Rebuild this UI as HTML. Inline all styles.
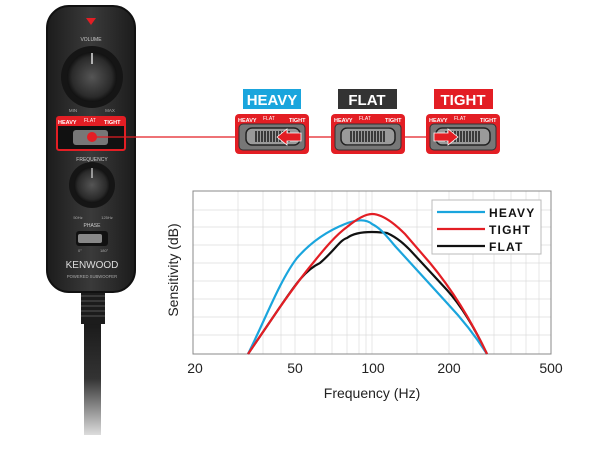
<!DOCTYPE html>
<html><head><meta charset="utf-8"><style>
body{margin:0;background:#fff;width:610px;height:450px;overflow:hidden}
svg{display:block}
text{font-family:"Liberation Sans",sans-serif}
</style></head><body>
<svg width="610" height="450" viewBox="0 0 610 450" xmlns="http://www.w3.org/2000/svg">
<defs>
<linearGradient id="cable" x1="0" y1="0" x2="0" y2="1">
<stop offset="0" stop-color="#1a1a1a"/><stop offset="0.5" stop-color="#333"/><stop offset="1" stop-color="#ddd"/></linearGradient>
<linearGradient id="body" x1="0" y1="0" x2="1" y2="0">
<stop offset="0" stop-color="#1c1c1c"/><stop offset="0.5" stop-color="#3a3a3a"/><stop offset="1" stop-color="#1c1c1c"/></linearGradient>
<radialGradient id="knob" cx="0.5" cy="0.5" r="0.5">
<stop offset="0" stop-color="#555"/><stop offset="0.8" stop-color="#2a2a2a"/><stop offset="1" stop-color="#111"/></radialGradient>
<g id="grip"><rect x="0" y="0" width="54" height="17" rx="6" fill="#9a9a9a" stroke="#222" stroke-width="1.5"/>
<g stroke="#222" stroke-width="1.6">
<line x1="10" y1="3" x2="10" y2="14"/><line x1="13" y1="3" x2="13" y2="14"/><line x1="16" y1="3" x2="16" y2="14"/><line x1="19" y1="3" x2="19" y2="14"/><line x1="22" y1="3" x2="22" y2="14"/><line x1="25" y1="3" x2="25" y2="14"/><line x1="28" y1="3" x2="28" y2="14"/><line x1="31" y1="3" x2="31" y2="14"/><line x1="34" y1="3" x2="34" y2="14"/><line x1="37" y1="3" x2="37" y2="14"/><line x1="40" y1="3" x2="40" y2="14"/><line x1="43" y1="3" x2="43" y2="14"/></g></g>
<g id="unit"><rect x="0" y="0" width="74" height="40" rx="4" fill="#e31e24"/>
<rect x="4" y="10" width="66" height="26" rx="4" fill="#777" stroke="#333"/>
<text x="3" y="8" font-size="5.5" font-weight="bold" fill="#fff">HEAVY</text>
<text x="28" y="6" font-size="5" fill="#fff">FLAT</text>
<text x="54" y="8" font-size="5.5" font-weight="bold" fill="#fff">TIGHT</text></g>
</defs>
<!-- cable -->
<rect x="84" y="322" width="17" height="113" fill="url(#cable)"/>
<rect x="81" y="288" width="24" height="36" fill="#1c1c1c"/>
<g stroke="#555" stroke-width="1"><line x1="81" y1="296" x2="105" y2="296"/><line x1="81" y1="301" x2="105" y2="301"/><line x1="81" y1="306" x2="105" y2="306"/><line x1="81" y1="311" x2="105" y2="311"/><line x1="81" y1="316" x2="105" y2="316"/></g>
<!-- body -->
<rect x="47" y="6" width="88" height="286" rx="22" fill="url(#body)" stroke="#111" stroke-width="2"/>
<path d="M86 18 L96 18 L91 25 Z" fill="#e31e24"/>
<text x="91" y="41" font-size="5" fill="#ccc" text-anchor="middle">VOLUME</text>
<circle cx="92" cy="77" r="31" fill="#151515"/>
<circle cx="92" cy="77" r="25" fill="url(#knob)"/>
<line x1="92" y1="53" x2="92" y2="64" stroke="#ddd" stroke-width="1.5"/>
<text x="73" y="112" font-size="4.5" fill="#aaa" text-anchor="middle">MIN</text>
<text x="110" y="112" font-size="4.5" fill="#aaa" text-anchor="middle">MAX</text>
<rect x="57" y="117" width="68" height="33" rx="2" fill="#111" stroke="#e31e24" stroke-width="2"/>
<rect x="57" y="117" width="68" height="9" fill="#e31e24"/>
<text x="58" y="124" font-size="5.5" font-weight="bold" fill="#fff">HEAVY</text>
<text x="84" y="122" font-size="5" fill="#fff">FLAT</text>
<text x="104" y="124" font-size="5.5" font-weight="bold" fill="#fff">TIGHT</text>
<rect x="73" y="130" width="35" height="15" rx="3" fill="#777"/>
<line x1="92" y1="137" x2="430" y2="137" stroke="#e31e24" stroke-width="1.2"/>
<circle cx="92" cy="137" r="5" fill="#e31e24"/>
<text x="92" y="161" font-size="5" fill="#ccc" text-anchor="middle">FREQUENCY</text>
<circle cx="92" cy="185" r="23" fill="#151515"/>
<circle cx="92" cy="185" r="18" fill="url(#knob)"/>
<line x1="92" y1="168" x2="92" y2="178" stroke="#ddd" stroke-width="1.2"/>
<text x="78" y="219" font-size="4" fill="#aaa" text-anchor="middle">50Hz</text>
<text x="107" y="219" font-size="4" fill="#aaa" text-anchor="middle">125Hz</text>
<text x="92" y="227" font-size="5" fill="#ccc" text-anchor="middle">PHASE</text>
<rect x="76" y="231" width="32" height="15" rx="3" fill="#111"/>
<rect x="78" y="234" width="24" height="9" rx="2" fill="#888"/>
<text x="78" y="252" font-size="4" fill="#aaa">0°</text><text x="100" y="252" font-size="4" fill="#aaa">180°</text>
<text x="92" y="268" font-size="10" fill="#ddd" text-anchor="middle">KENWOOD</text>
<text x="92" y="278" font-size="4.2" fill="#aaa" text-anchor="middle">POWERED SUBWOOFER</text>
<!-- top labels -->
<rect x="243" y="89" width="58" height="20" fill="#1aa5dd"/>
<text x="272" y="105" font-size="15" font-weight="bold" fill="#fff" text-anchor="middle">HEAVY</text>
<rect x="338" y="89" width="59" height="20" fill="#333"/>
<text x="367" y="105" font-size="15" font-weight="bold" fill="#fff" text-anchor="middle">FLAT</text>
<rect x="434" y="89" width="59" height="20" fill="#e31e24"/>
<text x="463" y="105" font-size="15" font-weight="bold" fill="#fff" text-anchor="middle">TIGHT</text>
<!-- units -->
<g transform="translate(235,114)"><use href="#unit"/><use href="#grip" transform="translate(11,14)"/>
<path d="M42 23 L52 15 L52 19 L66 19 L66 27 L52 27 L52 31 Z" fill="#e31e24" stroke="#fff" stroke-width="0.8"/></g>
<g transform="translate(331,114)"><use href="#unit"/><rect x="10" y="13" width="54" height="19" rx="7" fill="#bbb"/><use href="#grip" transform="translate(10,14)"/></g>
<g transform="translate(426,114)"><use href="#unit"/><use href="#grip" transform="translate(10,14)"/>
<path d="M32 23 L22 15 L22 19 L8 19 L8 27 L22 27 L22 31 Z" fill="#e31e24" stroke="#fff" stroke-width="0.8"/></g>
<!-- chart -->
<g stroke="#ddd" stroke-width="0.7">
<line x1="193" y1="210" x2="551" y2="210"/><line x1="193" y1="227" x2="551" y2="227"/><line x1="193" y1="245" x2="551" y2="245"/><line x1="193" y1="263" x2="551" y2="263"/><line x1="193" y1="281" x2="551" y2="281"/><line x1="193" y1="299" x2="551" y2="299"/><line x1="193" y1="317" x2="551" y2="317"/><line x1="193" y1="335" x2="551" y2="335"/>
<line x1="238" y1="191" x2="238" y2="354"/><line x1="263" y1="191" x2="263" y2="354"/><line x1="281" y1="191" x2="281" y2="354"/><line x1="295" y1="191" x2="295" y2="354"/><line x1="315" y1="191" x2="315" y2="354"/><line x1="332" y1="191" x2="332" y2="354"/><line x1="347" y1="191" x2="347" y2="354"/><line x1="359" y1="191" x2="359" y2="354"/><line x1="366" y1="191" x2="366" y2="354"/><line x1="372" y1="191" x2="372" y2="354"/><line x1="417" y1="191" x2="417" y2="354"/><line x1="449" y1="191" x2="449" y2="354"/><line x1="473" y1="191" x2="473" y2="354"/><line x1="494" y1="191" x2="494" y2="354"/><line x1="511" y1="191" x2="511" y2="354"/><line x1="526" y1="191" x2="526" y2="354"/><line x1="539" y1="191" x2="539" y2="354"/>
</g>
<rect x="193" y="191" width="358" height="163" fill="none" stroke="#888" stroke-width="1"/>
<path d="M248 354 L280 307 C295 285 305 270 320 263 C335 250 340 240 347 238 C355 232 370 231 387 233 C398 238 405 245 410 250 L447 290 C465 310 478 335 487 354" fill="none" stroke="#111" stroke-width="2.2"/>
<path d="M248 354 C265 320 280 280 297 258 C310 243 325 232 345 224 C355 220 365 218 372 224 C380 228 385 234 395 246 L447 303 C465 322 478 340 487 354" fill="none" stroke="#1aa5dd" stroke-width="2.2"/>
<path d="M248 354 L280 307 C292 290 303 275 313 263 C325 248 336 235 347 227 C358 218 366 214 372 214 C382 214 393 222 405 234 L430 263 C450 287 470 318 487 354" fill="none" stroke="#e31e24" stroke-width="2.2"/>
<rect x="432" y="200" width="109" height="54" fill="#fff" stroke="#bbb"/>
<line x1="437" y1="212" x2="485" y2="212" stroke="#1aa5dd" stroke-width="2.2"/>
<line x1="437" y1="229" x2="485" y2="229" stroke="#e31e24" stroke-width="2.2"/>
<line x1="437" y1="246" x2="485" y2="246" stroke="#111" stroke-width="2.2"/>
<text x="489" y="217" font-size="12" font-weight="bold" fill="#111" letter-spacing="1.2">HEAVY</text>
<text x="489" y="234" font-size="12" font-weight="bold" fill="#111" letter-spacing="1.2">TIGHT</text>
<text x="489" y="251" font-size="12" font-weight="bold" fill="#111" letter-spacing="1.2">FLAT</text>
<g font-size="14" fill="#222" text-anchor="middle">
<text x="195" y="373">20</text><text x="295" y="373">50</text><text x="373" y="373">100</text><text x="449" y="373">200</text><text x="551" y="373">500</text>
<text x="372" y="398">Frequency (Hz)</text>
<text transform="translate(178,270) rotate(-90)">Sensitivity (dB)</text>
</g>
</svg>
</body></html>
